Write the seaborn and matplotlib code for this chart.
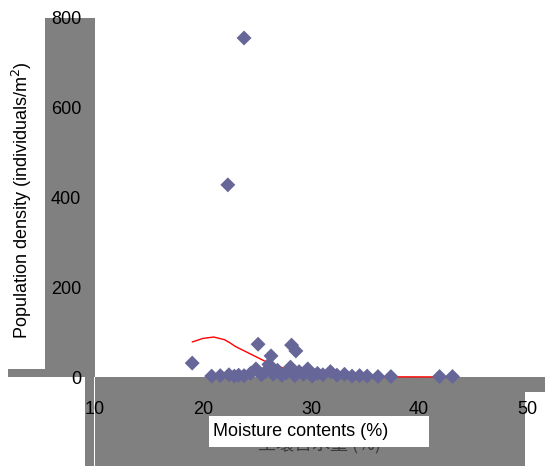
import matplotlib
matplotlib.use("Agg")
import matplotlib.pyplot as plt
from matplotlib.patches import Rectangle
import pandas as pd
import seaborn as sns

# ------------ DATA ------------
moisture = [23.8, 22.3, 19.0, 25.1, 28.2, 28.6, 26.3,
            20.8, 21.6, 22.4, 22.9, 23.3, 23.8, 24.4, 24.9, 25.4, 25.8,
            26.1, 26.5, 26.9, 27.3, 27.7, 28.1, 28.5, 28.9, 29.3, 29.7,
            30.1, 30.6, 31.1, 31.8, 32.4, 33.1, 33.8, 34.5, 35.2, 36.2,
            37.4, 41.9, 43.1]
density = [755, 428, 31, 73, 71, 58, 47,
           2, 3, 5, 2, 4, 3, 8, 18, 5, 12,
           28, 6, 15, 4, 9, 22, 3, 12, 6, 18,
           2, 8, 5, 12, 4, 6, 2, 3, 2, 1,
           1, 1, 1]

fit_x = [19, 20, 21, 22, 22.5, 23, 24, 25, 26, 27, 28, 29, 30, 32, 35, 38, 43]
fit_y = [78, 86, 89, 83, 76, 68, 56, 44, 32, 23, 16, 11, 7, 3, 1, 0.3, 0.1]

x_ticks = [10, 20, 30, 40, 50]
y_ticks = [0, 200, 400, 600, 800]

W, H = 545, 466

sns.set_style("white")
plt.rcParams["font.family"] = ["Liberation Sans", "DejaVu Sans"]
plt.rcParams["text.color"] = "black"

fig = plt.figure(figsize=(W / 100, H / 100), dpi=100)


def px_rect(x0, y0, x1, y1, color="#808080", z=-2):
    # rectangle given in picture pixels (top-left origin)
    fig.patches.append(Rectangle((x0 / W, 1 - y1 / H), (x1 - x0) / W, (y1 - y0) / H,
                                 transform=fig.transFigure, facecolor=color,
                                 edgecolor="none", zorder=z))


# gray scan blocks
px_rect(45, 18, 95, 377)
px_rect(8, 369, 95, 377)
px_rect(85, 377, 525, 466)
px_rect(525, 377, 545, 392)
px_rect(93.5, 377, 95.2, 466, color="white", z=-1)

ax = fig.add_axes([95 / W, 1 - 377 / H, 450 / W, 377 / H])
ax.patch.set_visible(False)

fit_df = pd.DataFrame({"x": fit_x, "y": fit_y})
pts_df = pd.DataFrame({"moisture": moisture, "density": density})

sns.lineplot(data=fit_df, x="x", y="y", ax=ax, color="red", lw=1.0,
             sort=True, estimator=None, zorder=2, clip_on=False)
sns.scatterplot(data=pts_df, x="moisture", y="density", ax=ax, marker="D",
                s=58, color="#666699", edgecolor="none", linewidth=0,
                zorder=3, clip_on=False)

ax.set_xlim(10, 10 + 450 / 10.8)
ax.set_ylim(0, 377 / 0.449)
ax.set_xticks(x_ticks)
ax.set_yticks(y_ticks)
ax.tick_params(axis="x", length=0, pad=17, labelsize=13, labelcolor="black")
ax.tick_params(axis="y", length=0, pad=10, labelsize=13, labelcolor="black")
ax.set_xlabel("")
ax.set_ylabel("")
for s in ax.spines.values():
    s.set_visible(False)

fig.text(22 / W, 1 - 200 / H, "Population density (individuals/m$^2$)",
         rotation=90, ha="center", va="center", fontsize=13, color="black")

# hidden chinese label, mostly covered by the english one
fig.text(320 / W, 1 - 445 / H, "土壤含水量 (%)", ha="center", va="center",
         fontsize=13, color="#3a3a3a", zorder=4,
         family=["Noto Sans CJK SC", "DejaVu Sans"])
px_rect(209, 416, 429, 447, color="white", z=5)
fig.text(213 / W, 1 - 431 / H, "Moisture contents (%)", ha="left", va="center",
         fontsize=13, zorder=6, color="black")

fig.savefig("out.png", dpi=100)
